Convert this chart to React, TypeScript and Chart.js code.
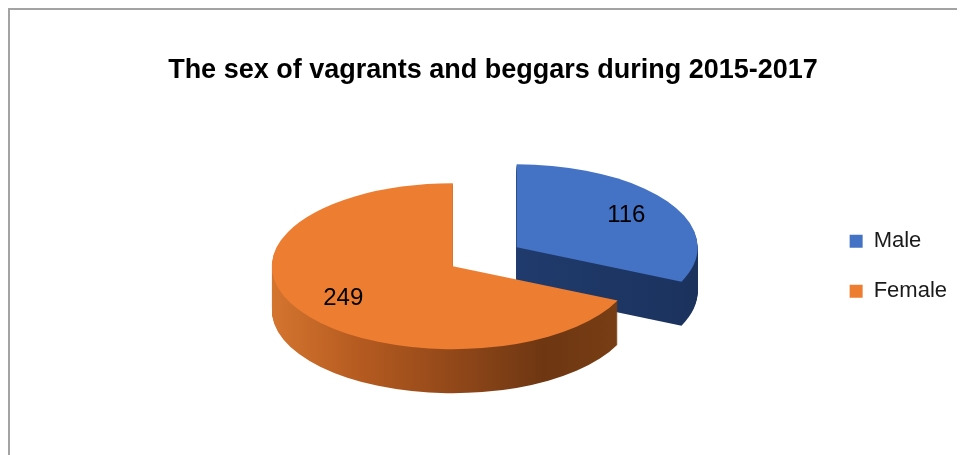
import React, { useEffect, useRef } from 'react';
import { Chart, registerables } from 'chart.js';

Chart.register(...registerables);

// ---- data ----
const chartTitle = 'The sex of vagrants and beggars during 2015-2017';
const categories = ['Male', 'Female'];
const counts = [116, 249];
const sliceColors = ['#4472C4', '#ED7D31'];
const sideColors = [
  ['#24427a', '#213d72', '#1e3867', '#1b325d'],
  ['#d4752f', '#b45a20', '#924819', '#6e3712', '#7a3f15'],
];

// ---- 3D look ----
const TILT = 0.4586; // vertical squash of the pie disc
const DEPTH = 44; // thickness of the disc in px
const LABEL_POS = 0.72;

function sector(ctx: CanvasRenderingContext2D, cx: number, cy: number, rx: number, ry: number, a0: number, a1: number) {
  ctx.beginPath();
  ctx.moveTo(cx, cy);
  ctx.ellipse(cx, cy, rx, ry, 0, a0, a1);
  ctx.closePath();
}

const pie3d = {
  id: 'pie3d',
  beforeDatasetsDraw(chart: any) {
    const ctx: CanvasRenderingContext2D = chart.ctx;
    const meta = chart.getDatasetMeta(0);
    const values = chart.data.datasets[0].data as number[];
    const arcs = meta.data.map((el: any, i: number) => {
      const p = el.getProps(['x', 'y', 'startAngle', 'endAngle', 'outerRadius'], true);
      const off = el.options.offset || 0;
      const mid = (p.startAngle + p.endAngle) / 2;
      const r = p.outerRadius;
      return {
        i,
        color: el.options.backgroundColor,
        cx: p.x + Math.cos(mid) * off,
        cy: p.y + Math.sin(mid) * off * TILT,
        r,
        ry: r * TILT,
        a0: p.startAngle,
        a1: p.endAngle,
        mid,
      };
    });
    const order = [...arcs].sort((a: any, b: any) => a.cy - b.cy);
    for (const a of order) {
      const stops = sideColors[a.i];
      const g = ctx.createLinearGradient(a.cx - a.r, 0, a.cx + a.r, 0);
      stops.forEach((c, j) => g.addColorStop(j / (stops.length - 1), c));
      ctx.save();
      ctx.fillStyle = g;
      for (let d = DEPTH; d >= 1; d--) {
        sector(ctx, a.cx, a.cy + d, a.r, a.ry, a.a0, a.a1);
        ctx.fill();
      }
      ctx.fillStyle = a.color;
      sector(ctx, a.cx, a.cy, a.r, a.ry, a.a0, a.a1);
      ctx.fill();
      ctx.restore();
    }
    ctx.save();
    ctx.font = '24px "Liberation Sans", Arial, sans-serif';
    ctx.fillStyle = '#000';
    ctx.textAlign = 'center';
    ctx.textBaseline = 'middle';
    for (const a of arcs) {
      const x = a.cx + Math.cos(a.mid) * a.r * LABEL_POS;
      const y = a.cy + Math.sin(a.mid) * a.ry * LABEL_POS;
      ctx.fillText(String(values[a.i]), x, y);
    }
    ctx.restore();
    return false;
  },
};

const frame = {
  id: 'frame',
  beforeDraw(chart: any) {
    const ctx: CanvasRenderingContext2D = chart.ctx;
    ctx.save();
    ctx.fillStyle = '#fff';
    ctx.fillRect(0, 0, chart.width, chart.height);
    ctx.fillStyle = '#a3a3a3';
    ctx.fillRect(0, 0, 2, chart.height);
    ctx.fillRect(0, 0, chart.width, 2);
    ctx.restore();
  },
};

export default function App() {
  const ref = useRef<HTMLCanvasElement>(null);
  useEffect(() => {
    document.documentElement.style.overflow = 'hidden';
    document.body.style.overflow = 'hidden';
    Chart.defaults.font.family = '"Liberation Sans", Arial, sans-serif';
    const chart = new Chart(ref.current as HTMLCanvasElement, {
      type: 'pie',
      data: {
        labels: categories,
        datasets: [
          {
            data: counts,
            backgroundColor: sliceColors,
            borderWidth: 0,
            offset: [76, 0],
            radius: 181,
          } as any,
        ],
      },
      options: {
        responsive: false,
        animation: false,
        radius: 181,
        layout: { padding: { left: 21, right: 0, top: 0, bottom: 9 } },
        plugins: {
          title: {
            display: true,
            text: chartTitle,
            color: '#000',
            font: { size: 27, weight: 'bold' },
            padding: { top: 46, bottom: 0 },
          },
          // empty spacer on the left so the plot sits left of the title centre, as in the original
          subtitle: {
            display: true,
            position: 'left',
            fullSize: false,
            text: '',
            font: { size: 10, lineHeight: 1 },
            padding: { top: 22, bottom: 23 },
          },
          legend: {
            position: 'right',
            fullSize: false,
            labels: {
              boxWidth: 13,
              boxHeight: 13,
              padding: 28,
              color: '#1a1a1a',
              font: { size: 22 },
            },
          },
          tooltip: { enabled: false },
        },
      } as any,
      plugins: [frame, pie3d],
    });
    return () => chart.destroy();
  }, []);
  return <canvas ref={ref} width={949} height={447} style={{ display: 'block' }} />;
}
